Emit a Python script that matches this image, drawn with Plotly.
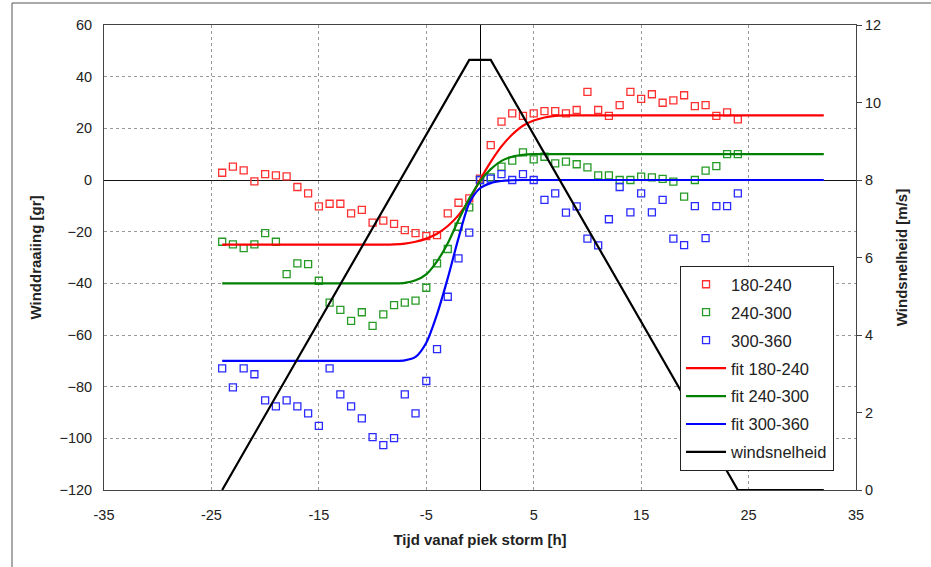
import plotly.graph_objects as go

# ---- data ----
hours_left = list(range(-24, 0))
hours_right = list(range(1, 25))
hours = hours_left + [0] + hours_right

red_pts = [2.8, 5.2, 3.7, -0.5, 2.3, 1.8, 1.4, -2.7, -5.2, -10.2, -9.2, -9.2,
           -12.9, -11.6, -16.5, -15.7, -17, -19.4, -20.6, -21.7, -21.3, -12.9, -8.8, -7.1] + [0.5] + \
          [13.5, 22.6, 25.8, 24.8, 25.8, 26.7, 26.7, 25.8, 27.1, 34.1, 27.1, 24.8,
           29, 34.1, 31.4, 33.2, 29.9, 30.8, 32.8, 28.6, 29, 24.8, 26.2, 23.5]
green_pts = [-23.9, -24.9, -26.4, -24.9, -20.6, -23.9, -36.4, -32.3, -32.6, -39, -47.5, -50.3,
             -54.5, -51.2, -56.5, -52, -48.4, -47.5, -46.7, -41.7, -32.3, -26.7, -18.1, -10.6] + [0] + \
            [1, 5.2, 7.5, 10.7, 8, 9, 6.4, 7.1, 6.1, 4.9, 1.8, 1.8,
             0, 0, 1.3, 1, 0.4, -0.6, -6.4, 0, 3.6, 5.4, 10, 10]
blue_pts = [-72.9, -80.3, -72.9, -75.2, -85.3, -87.6, -85.3, -87.6, -90.3, -95.2, -72.9, -83,
            -87.6, -92.3, -99.5, -102.6, -99.9, -83, -90.3, -77.8, -65.5, -45.2, -30.3, -20.4] + [0] + \
           [0.5, 2.3, 0, 2.3, 0, -7.7, -5.2, -12.6, -10.2, -22.7, -25.3, -15.2,
            -2.7, -12.5, -5.2, -12.5, -7.7, -22.7, -25.2, -10.1, -22.5, -10.1, -10.1, -5.2]

fit_hours = [-24, -9, -8, -7, -6, -5, -4, -3, -2, -1, 0, 1, 2, 3, 4, 5, 6, 7, 8, 32]
red_fit = [-25, -25, -24.9, -24.6, -23.9, -22.7, -20.8, -17.8, -13.6, -7.8, 0,
           7, 13, 17.6, 21, 23, 24.2, 24.8, 25, 25]
green_fit = [-40, -40, -40, -39.8, -38.8, -36.5, -31.5, -24.5, -15.5, -7.2, -0.5,
             4.2, 7.4, 9, 9.7, 10, 10, 10, 10, 10]
blue_fit = [-70, -70, -70, -69.8, -68.5, -63, -52, -38, -22.5, -9, -3.2,
            -1.2, -0.4, -0.1, 0, 0, 0, 0, 0, 0]

wind_hours = [-24, -1, 1, 24, 32]
wind_speed = [0, 11.1, 11.1, 0, 0]

x_ticks = [-35, -25, -15, -5, 5, 15, 25, 35]
y_ticks = [-120, -100, -80, -60, -40, -20, 0, 20, 40, 60]
y2_ticks = [0, 2, 4, 6, 8, 10, 12]

FONT = "Liberation Sans, Arial, sans-serif"
TITLEFONT = "Liberation Sans Narrow, Arial Narrow, Liberation Sans, Arial, sans-serif"

fig = go.Figure()
for name, vals, col in [("180-240", red_pts, "#ff3030"),
                        ("240-300", green_pts, "#259a25"),
                        ("300-360", blue_pts, "#2a2aff")]:
    fig.add_trace(go.Scatter(x=hours, y=vals, mode="markers", name=name, legendgroup=name,
                             marker=dict(symbol="square-open", size=7, color=col,
                                         line=dict(width=1.3, color=col))))
for name, vals, col in [("fit 180-240", red_fit, "#ff0000"),
                        ("fit 240-300", green_fit, "#008000"),
                        ("fit 300-360", blue_fit, "#0000ff")]:
    fig.add_trace(go.Scatter(x=fit_hours, y=vals, mode="lines", name=name, legendgroup=name,
                             line=dict(color=col, width=2.2, shape="spline", smoothing=0.8)))
fig.add_trace(go.Scatter(x=wind_hours, y=wind_speed, mode="lines", name="windsnelheid",
                         legendgroup="windsnelheid",
                         yaxis="y2", line=dict(color="black", width=2.2)))

fig.update_layout(
    width=931, height=567,
    margin=dict(l=104, r=75, t=25, b=77),
    paper_bgcolor="white", plot_bgcolor="white",
    font=dict(family=FONT, size=14, color="#222"),
    showlegend=True,
    legend=dict(x=0.766, y=(490 - 266) / 465, xanchor="left", yanchor="top",
                bgcolor="white", bordercolor="#222", borderwidth=1,
                font=dict(family=FONT, size=16.5, color="#222"),
                itemwidth=40, tracegroupgap=3.5, traceorder="grouped"),
    xaxis=dict(range=[-35, 35], tickvals=x_ticks, ticktext=[str(v) for v in x_ticks],
               showgrid=True, gridcolor="#999", griddash="3px,3px", gridwidth=1,
               zeroline=True, zerolinecolor="black", zerolinewidth=1.3,
               showline=True, linecolor="#444", linewidth=1, mirror=True,
               ticks="", tickfont=dict(size=14.5), ticklabelstandoff=12,
               title=dict(text="<b>Tijd vanaf piek storm [h]</b>", standoff=12,
                          font=dict(family=TITLEFONT, size=15))),
    yaxis=dict(range=[-120, 60], tickvals=y_ticks, showgrid=True, gridcolor="#999",
               griddash="3px,3px", gridwidth=1,
               zeroline=True, zerolinecolor="#111", zerolinewidth=1.3,
               showline=True, linecolor="#444", linewidth=1, mirror=True,
               ticks="", tickfont=dict(size=14.5), ticklabelstandoff=8,
               title=dict(text="<b>Winddraaiing [gr]</b>", standoff=14,
                          font=dict(family=TITLEFONT, size=15))),
    yaxis2=dict(range=[0, 12], tickvals=y2_ticks, overlaying="y", side="right",
                showgrid=False, zeroline=False, showline=True, linecolor="#444",
                ticks="outside", ticklen=5, tickcolor="#444", tickfont=dict(size=14.5),
                title=dict(text="<b>Windsnelheid [m/s]</b>", standoff=16,
                           font=dict(family=TITLEFONT, size=15))),
)
fig.add_shape(type="rect", xref="paper", yref="paper",
              x0=(12 - 104) / 752, x1=(940 - 104) / 752,
              y0=(490 - 575) / 465, y1=(490 - 3) / 465,
              line=dict(color="#555", width=1), fillcolor="rgba(0,0,0,0)", layer="below")

fig.write_html("out.html")
